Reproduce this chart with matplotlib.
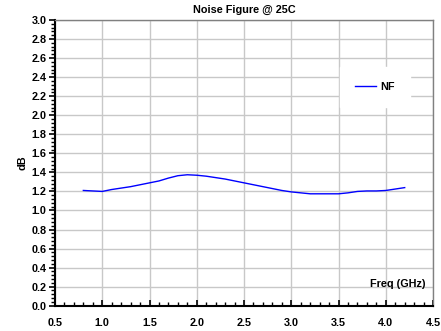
import matplotlib.pyplot as plt
from matplotlib.ticker import MultipleLocator

plt.rcParams['font.family'] = ['Liberation Sans', 'DejaVu Sans']

# NF vs frequency
freq = [0.8, 0.9, 1.0, 1.1, 1.2, 1.3, 1.4, 1.5, 1.6, 1.7, 1.8, 1.9, 2.0, 2.1,
        2.2, 2.3, 2.4, 2.5, 2.6, 2.7, 2.8, 2.9, 3.0, 3.1, 3.2, 3.3, 3.4, 3.5,
        3.6, 3.7, 3.8, 3.9, 4.0, 4.1, 4.2]
nf = [1.21, 1.205, 1.20, 1.22, 1.235, 1.25, 1.27, 1.29, 1.31, 1.34, 1.365,
      1.375, 1.37, 1.36, 1.345, 1.33, 1.31, 1.29, 1.27, 1.25, 1.23, 1.21,
      1.195, 1.185, 1.175, 1.175, 1.175, 1.175, 1.185, 1.20, 1.205, 1.205,
      1.21, 1.225, 1.24]

fig = plt.figure(figsize=(4.41, 3.31), dpi=100)
ax = fig.add_axes([0.1247, 0.0764, 0.8573, 0.8632])

ax.plot(freq, nf, color='blue', lw=1, label='NF')
ax.set_xlim(0.5, 4.5)
ax.set_ylim(0.0, 3.0)

ax.xaxis.set_major_locator(MultipleLocator(0.5))
ax.xaxis.set_minor_locator(MultipleLocator(0.1))
ax.yaxis.set_major_locator(MultipleLocator(0.2))
ax.yaxis.set_minor_locator(MultipleLocator(0.04))
ax.xaxis.set_major_formatter(plt.FormatStrFormatter('%.1f'))
ax.yaxis.set_major_formatter(plt.FormatStrFormatter('%.1f'))

ax.grid(True, which='major', color='#c8c8c8', lw=1)
ax.set_axisbelow(True)

for s in ['top', 'right']:
    ax.spines[s].set_color('#808080')
    ax.spines[s].set_linewidth(1)
for s in ['left', 'bottom']:
    ax.spines[s].set_color('black')
    ax.spines[s].set_linewidth(1.5)

fs = 7.8
ax.tick_params(axis='x', which='both', direction='in', labelsize=fs, pad=9)
ax.tick_params(axis='x', which='major', length=4, width=1.2)
ax.tick_params(axis='x', which='minor', length=3, width=1)
ax.tick_params(axis='y', which='both', direction='out', labelsize=fs, pad=2)
ax.tick_params(axis='y', which='major', length=4, width=1.2)
ax.tick_params(axis='y', which='minor', length=3, width=1)
for lab in ax.get_xticklabels() + ax.get_yticklabels():
    lab.set_fontweight('bold')

ax.set_title('Noise Figure @ 25C', fontsize=fs, fontweight='bold', pad=5)
ax.set_ylabel('dB', fontsize=fs, fontweight='bold', labelpad=3)
ax.text(0.98, 0.075, 'Freq (GHz)', transform=ax.transAxes, ha='right',
        va='center', fontsize=fs, fontweight='bold')

leg = ax.legend(loc='upper left', bbox_to_anchor=(0.74, 0.855), frameon=True,
                fancybox=False, prop={'size': fs, 'weight': 'bold'},
                handlelength=1.9, borderpad=1.4, handletextpad=0.4)
leg.get_frame().set_edgecolor('white')
leg.get_frame().set_alpha(1)

fig.savefig('out.png', dpi=100)
